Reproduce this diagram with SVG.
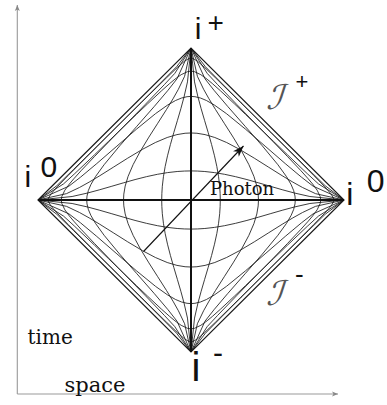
<svg xmlns="http://www.w3.org/2000/svg" xmlns:xlink="http://www.w3.org/1999/xlink" width="387" height="405" viewBox="0 0 387 405">
<style>
.c{fill:none;stroke:#1a1a1a;stroke-width:0.85;vector-effect:non-scaling-stroke}
.edge{fill:none;stroke:#1a1a1a;stroke-width:1.2}
.axis0{fill:none;stroke:#111;stroke-width:2}
.ax{fill:none;stroke:#999;stroke-width:1.1}
.sans{font-family:"Liberation Sans",Arial,sans-serif;fill:#111}
.serif{font-family:"DejaVu Serif",serif;fill:#111}
.scri{font-family:"DejaVu Sans",sans-serif;fill:#555}
</style>
<defs>
<marker id="ah" markerUnits="userSpaceOnUse" markerWidth="14" markerHeight="10" refX="0" refY="0" viewBox="-12 -5 13 10" orient="auto" overflow="visible">
<path d="M0,0 L-11,-4 L-8,0 L-11,4 Z" fill="#111"/>
</marker>
<marker id="aa" markerUnits="userSpaceOnUse" markerWidth="8" markerHeight="6" refX="0" refY="0" viewBox="-7 -3 8 6" orient="auto" overflow="visible">
<path d="M0,0 L-6,-2.5 L-4.5,0 L-6,2.5 Z" fill="#888"/>
</marker>
<path id="cA" class="c" d="M-180,0 L-139.86,4.14 -121.74,8.26 -108.04,11.96 -93.94,16.06 -79.76,20.24 -65.81,24.19 -52.36,27.64 -39.59,30.41 -27.56,32.44 -16.26,33.74 -7.72,34.28 0,34.45 7.72,34.28 16.26,33.74 27.56,32.44 39.59,30.41 52.36,27.64 65.81,24.19 79.76,20.24 93.94,16.06 108.04,11.96 121.74,8.26 139.86,4.14 180,0"/>
<path id="cB" class="c" d="M-180,0 L-146.48,7.52 -131.17,14.83 -119.83,21.17 -107.19,28.81 -90.85,39.15 -74.45,49.55 -56.89,60.11 -41.94,68.06 -27.98,74.02 -16.56,77.44 -6.96,79.04 0,79.38 6.96,79.04 16.56,77.44 27.98,74.02 41.94,68.06 56.89,60.11 74.45,49.55 90.85,39.15 107.19,28.81 119.83,21.17 131.17,14.83 146.48,7.52 180,0"/>
<path id="cC" class="c" d="M-180,0 L-143.56,16.44 -129.96,27.04 -110.88,43.12 -87.18,63.82 -64.21,83.79 -41.79,102.21 -27.61,112.39 -18.16,117.84 -11.26,120.74 -4.65,122.35 0,122.7 4.65,122.35 11.26,120.74 18.16,117.84 27.61,112.39 41.79,102.21 64.21,83.79 87.18,63.82 110.88,43.12 129.96,27.04 143.56,16.44 180,0"/>
<path id="cD" class="c" d="M-180,0 L-149.9,19.1 -136.74,31.26 -113.48,53.52 -97.23,69.27 -79.81,86.19 -64,101.5 -51.36,113.64 -34.68,129.32 -25.03,137.97 -18.93,143.07 -11.58,148.42 -3.97,152.03 0,152.58 3.97,152.03 11.58,148.42 18.93,143.07 25.03,137.97 34.68,129.32 51.36,113.64 64,101.5 79.81,86.19 97.23,69.27 113.48,53.52 136.74,31.26 149.9,19.1 180,0"/>
<path id="cE" class="c" d="M-180,0 L-157.89,16.91 -138.45,35.95 -115.47,58.73 -98.69,75.41 -80.21,93.79 -63.54,110.36 -50.54,123.26 -28.94,144.56 -15.83,157.17 -7.54,164.46 -2.33,167.67 0,168.1 2.33,167.67 7.54,164.46 15.83,157.17 28.94,144.56 50.54,123.26 63.54,110.36 80.21,93.79 98.69,75.41 115.47,58.73 138.45,35.95 157.89,16.91 180,0"/>
<g id="fam">
<use xlink:href="#cA"/><use xlink:href="#cB"/><use xlink:href="#cC"/><use xlink:href="#cD"/><use xlink:href="#cE"/>
</g>
</defs>

<g id="axes">
<line class="ax" x1="17.3" y1="394" x2="17.3" y2="5" marker-end="url(#aa)"/>
<line class="ax" x1="17.3" y1="394" x2="338" y2="394" marker-end="url(#aa)"/>
</g>

<g id="grid">
<use xlink:href="#fam" transform="matrix(0.85 0 0 -0.8444 191 200)"/>
<use xlink:href="#fam" transform="matrix(0.85 0 0 0.8444 191 200)"/>
<use xlink:href="#fam" transform="matrix(0 -0.8444 0.85 0 191 200)"/>
<use xlink:href="#fam" transform="matrix(0 -0.8444 -0.85 0 191 200)"/>
<polygon class="edge" points="38,200 191,48 344,200 191,352"/>
<line class="axis0" x1="38" y1="200" x2="344" y2="200"/>
<line class="axis0" x1="191" y1="48" x2="191" y2="352"/>
</g>

<g id="photon">
<line x1="143.5" y1="251.5" x2="243.5" y2="146" stroke="#111" stroke-width="1.1" marker-end="url(#ah)"/>
<text class="serif" x="210" y="195" font-size="18">Photon</text>
</g>

<g id="i-plus">
<text class="sans" x="194.7" y="39" font-size="30">i</text>
<text class="sans" x="207.5" y="32" font-size="28">+</text>
</g>
<g id="i0-left">
<text class="sans" x="24.5" y="186.5" font-size="30">i</text>
<text class="sans" x="40.4" y="176.5" font-size="30">0</text>
</g>
<g id="i0-right">
<text class="sans" x="346.3" y="204.5" font-size="32">i</text>
<text class="sans" x="366.7" y="192" font-size="32">0</text>
</g>
<g id="i-minus">
<text class="sans" x="191.5" y="380.5" font-size="40">i</text>
<text class="sans" x="213" y="363" font-size="30">-</text>
</g>
<g id="scri-plus">
<text class="scri" transform="translate(266,109) skewX(-18)" font-size="34">ℐ</text>
<text class="sans" x="295.6" y="88.8" font-size="22">+</text>
</g>
<g id="scri-minus">
<text class="scri" transform="translate(266,305) skewX(-18)" font-size="34">ℐ</text>
<text class="sans" x="294.9" y="283.2" font-size="26">-</text>
</g>
<g id="labels">
<text class="serif" x="27.5" y="343.5" font-size="20">time</text>
<text class="serif" x="64.5" y="391.5" font-size="21">space</text>
</g>
</svg>
